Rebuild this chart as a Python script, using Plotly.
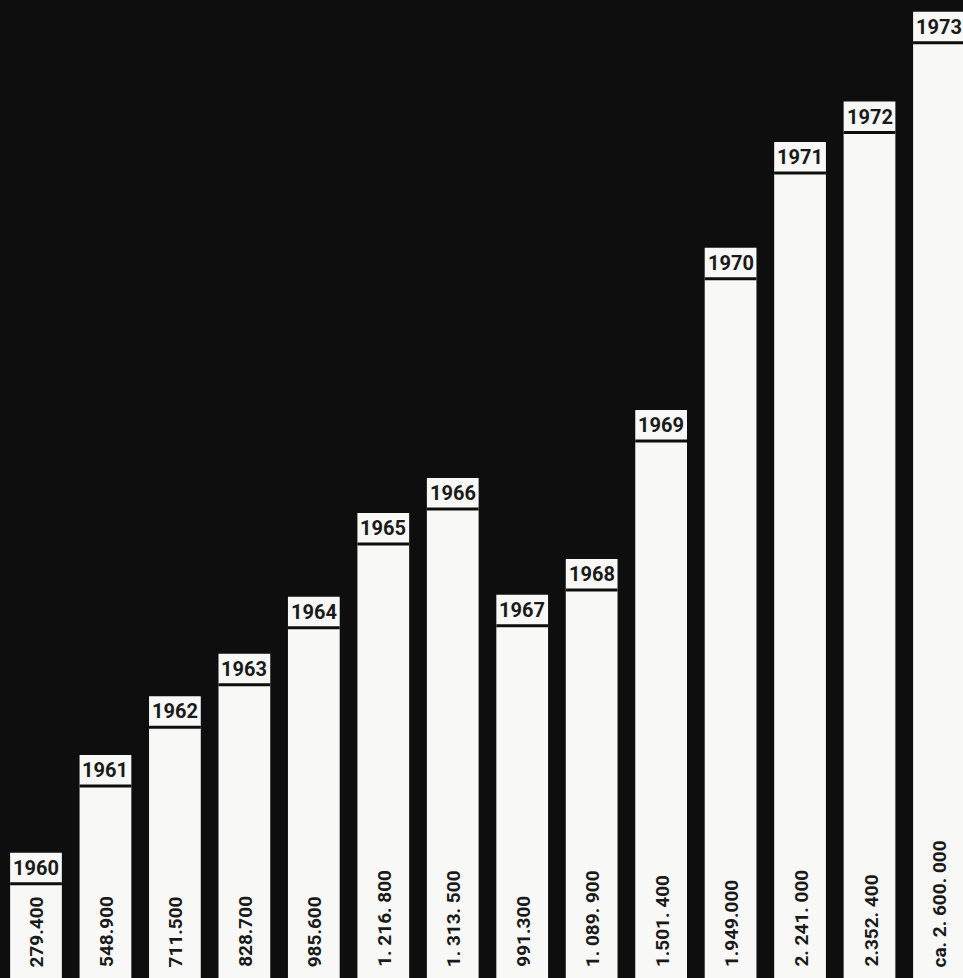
import plotly.graph_objects as go

years = [1960, 1961, 1962, 1963, 1964, 1965, 1966, 1967, 1968, 1969, 1970, 1971, 1972, 1973]
values = [279400, 548900, 711500, 828700, 985600, 1216800, 1313500, 991300,
          1089900, 1501400, 1949000, 2241000, 2352400, 2600000]
value_labels = ["279.400", "548.900", "711.500", "828.700", "985.600", "1. 216. 800",
                "1. 313. 500", "991.300", "1. 089. 900", "1.501. 400", "1.949.000",
                "2. 241. 000", "2.352. 400", "ca. 2. 600. 000"]

Y_MIN = -66200
Y_MAX = 2632500
BG = "#0e0e0e"
BAR = "#f8f8f6"
INK = "#1a1a1a"
FONT = "Roboto, Liberation Sans, sans-serif"

fig = go.Figure()
fig.add_trace(go.Bar(
    x=years,
    y=[v - Y_MIN for v in values],
    base=[Y_MIN] * len(values),
    width=0.745,
    marker=dict(color=BAR, line=dict(width=0)),
    hoverinfo="skip",
))

annotations = []
shapes = []
for yr, v, lab in zip(years, values, value_labels):
    annotations.append(dict(
        x=yr, y=v, xref="x", yref="y", text=f"<b>{yr}</b>", showarrow=False,
        yanchor="middle", xanchor="center", yshift=-15,
        font=dict(family=FONT, size=20, color=INK),
    ))
    annotations.append(dict(
        x=yr, y=Y_MIN, xref="x", yref="y", text=f"<b>{lab}</b>", showarrow=False,
        textangle=-90, yanchor="bottom", xanchor="center", yshift=9, xshift=1,
        font=dict(family=FONT, size=19, color=INK),
    ))
    shapes.append(dict(
        type="line", xref="x", yref="y", ysizemode="pixel", yanchor=v,
        x0=yr - 0.3725, x1=yr + 0.3725, y0=-31, y1=-31,
        line=dict(color=BG, width=3),
    ))

fig.update_layout(
    width=963, height=978,
    margin=dict(l=0, r=0, t=0, b=0),
    paper_bgcolor=BG, plot_bgcolor=BG,
    showlegend=False,
    annotations=annotations,
    shapes=shapes,
    xaxis=dict(range=[1959.482, 1973.346], visible=False, fixedrange=True),
    yaxis=dict(range=[Y_MIN, Y_MAX], visible=False, fixedrange=True),
    hovermode=False,
)

fig.write_html("out.html")
